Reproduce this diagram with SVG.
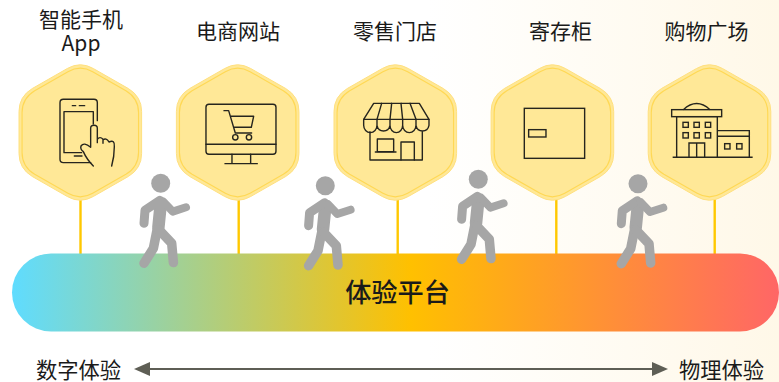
<svg xmlns="http://www.w3.org/2000/svg" xmlns:xlink="http://www.w3.org/1999/xlink" width="779" height="382" viewBox="0 0 779 382">
<style>
text{font-family:"Noto Sans CJK SC","Noto Sans",sans-serif;fill:#1a1a1a;text-anchor:middle}
.lb{font-size:21px}
.ax{font-size:21.3px}
.hx{fill:#FFE897;stroke:#FFE07F;stroke-width:1}
.hi{fill:none;stroke:#FFD855;stroke-width:1.2}
.ic{fill:none;stroke:#26251e;stroke-width:4.2;stroke-linejoin:round;stroke-linecap:round}
.ic2{stroke-linecap:butt;stroke-linejoin:miter}
.cn{stroke:#FFC800;stroke-width:2.4;fill:none}
.pa{fill:none;stroke:#A6A6A6;stroke-linecap:round;stroke-linejoin:round}
</style>
<defs>
<linearGradient id="bg" x1="0" x2="1" y1="0" y2="0"><stop offset="0.55" stop-color="#fff"/><stop offset="1" stop-color="#FFF8E8"/></linearGradient>
<linearGradient id="bar" x1="0" x2="1" y1="0" y2="0"><stop offset="0" stop-color="#5FDCFF"/><stop offset="0.52" stop-color="#FFC000"/><stop offset="1" stop-color="#FF6666"/></linearGradient>
<path id="hp" d="M-13,-64 Q0,-71.5 13,-64 L48,-44 Q61.3,-36 61.3,-21 V21 Q61.3,36 48,44 L13,64 Q0,71.5 -13,64 L-48,44 Q-61.3,36 -61.3,21 V-21 Q-61.3,-36 -48,-44 Z"/>
<g id="hex"><use xlink:href="#hp" class="hx"/><use xlink:href="#hp" class="hi" transform="scale(.95)"/></g>
<g id="walker">
<circle cx="0" cy="0" r="9.5" fill="#A6A6A6"/>
<path class="pa" stroke-width="12.5" d="M0,21 L-2.3,44"/>
<path class="pa" stroke-width="9" d="M-.7,17 L-15.7,27 L-16.7,40"/>
<path class="pa" stroke-width="8" d="M2.7,18.5 L12,28.3 L25.3,24"/>
<path class="pa" stroke-width="9.5" d="M-3.5,46 L-7.3,65 L-16.7,80"/>
<path class="pa" stroke-width="9.5" d="M-1.5,46.7 L11,60 L12.7,79.3"/>
</g>
<marker id="ah" markerUnits="userSpaceOnUse" markerWidth="16" markerHeight="16" refX="0" refY="8" orient="auto-start-reverse"><path d="M0,1 L16,8 L0,15 Z" fill="#5E5E55"/></marker>
</defs>
<rect id="background" width="779" height="382" fill="url(#bg)"/>
<g id="connectors">
<path class="cn" d="M80.5,199 V255"/>
<path class="cn" d="M238.7,199 V255"/>
<path class="cn" d="M397.7,199 V255"/>
<path class="cn" d="M556.3,199 V255"/>
<path class="cn" d="M714.7,199 V255"/>
<path d="M150,369 H652" stroke="#5E5E55" stroke-width="2" fill="none" marker-start="url(#ah)" marker-end="url(#ah)"/>
</g>
<g id="platform">
<rect x="12" y="253.5" width="767" height="78" rx="39" fill="url(#bar)"/>
<text x="397.5" y="302" style="font-size:26.2px;font-weight:500">体验平台</text>
</g>
<g id="node-app">
<use xlink:href="#hex" x="80.3" y="132.5"/>
<g class="ic" transform="scale(.3333)">
<path d="M272,488 H190 Q180,488 180,478 V308 Q180,298 190,298 H282 Q292,298 292,308 V362"/>
<path d="M245,458 H192 V335 H280 V372"/>
<path d="M217,317 H227 M238,317 H254 M223,468 H246"/>
<path d="M272,440 V385 Q272,376 282,376 Q292,376 292,385 V428 M292,428 V418 Q300,408 309,418 V430 M309,420 Q318,412 327,426 M327,426 Q345,418 343,440 Q343,470 335,498 M272,442 Q252,425 243,438 Q240,448 250,455 Q260,478 280,498"/>
</g>
</g>
<g id="node-web">
<use xlink:href="#hex" x="237.7" y="132.5"/>
<g class="ic" transform="scale(.3333)">
<rect x="618" y="313" width="210" height="150" rx="9"/>
<path d="M618,433 H828 M696,463 V491 M752,463 V491 M675,491 H772"/>
<path d="M672,332 H686 L706,399 H755 M691,349 H761 L754,382 H701"/>
<circle cx="706" cy="412" r="8"/><circle cx="747" cy="412" r="8"/>
</g>
</g>
<g id="node-store">
<use xlink:href="#hex" x="395.3" y="132.5"/>
<g class="ic" transform="translate(320,50) scale(.3333)">
<path d="M161,160 H298 L327,208 H131 Z"/>
<path d="M185,160 L171,208 M215,160 L210,208 M243,160 L248,208 M270,160 L288,208"/>
<path d="M131,208 V226 A20,22 0 0 0 171,226 A20,22 0 0 0 210,226 A19,22 0 0 0 248,226 A20,22 0 0 0 288,226 A20,22 0 0 0 327,226 V208 M171,208 V226 M210,208 V226 M248,208 V226 M288,208 V226"/>
<path d="M150,245 V330 H307 V245"/>
<rect x="172" y="267" width="49" height="38"/>
<path d="M166,306 H228"/>
<path d="M243,330 V276 H283 V330"/>
</g>
</g>
<g id="node-locker">
<use xlink:href="#hex" x="552.4" y="132.5"/>
<g class="ic ic2" transform="translate(320,50) scale(.3333)">
<rect x="613" y="175" width="181" height="150"/>
<rect x="626" y="239" width="52" height="22"/>
</g>
</g>
<g id="node-mall">
<use xlink:href="#hex" x="709.5" y="132.5"/>
<g class="ic ic2" transform="translate(620,50) scale(.3333)">
<path d="M158,322 H398"/>
<path d="M170,322 V200 H292 V322"/>
<rect x="155" y="179" width="150" height="21"/>
<path d="M190,179 Q230,142 270,179"/>
<rect x="189" y="217" width="16" height="15"/><rect x="222" y="217" width="16" height="15"/><rect x="256" y="217" width="16" height="15"/>
<rect x="189" y="248" width="16" height="16"/><rect x="222" y="248" width="16" height="16"/><rect x="256" y="248" width="16" height="16"/>
<path d="M207,322 V279 H254 V322 M230,279 V322"/>
<path d="M292,242 H388 V322 M292,259 H388"/>
<rect x="314" y="281" width="16" height="16"/><rect x="350" y="281" width="16" height="16"/>
</g>
</g>
<g id="people">
<use xlink:href="#walker" x="160.7" y="183.3"/>
<use xlink:href="#walker" x="325.3" y="185.7"/>
<use xlink:href="#walker" x="478.3" y="179.3"/>
<use xlink:href="#walker" x="638" y="183.7"/>
</g>
<g id="labels">
<text class="lb" x="81" y="27">智能手机</text>
<text class="lb" x="81" y="51">App</text>
<text class="lb" x="238" y="39">电商网站</text>
<text class="lb" x="395" y="39">零售门店</text>
<text class="lb" x="560.5" y="39">寄存柜</text>
<text class="lb" x="706.5" y="39">购物广场</text>
<text class="ax" x="78.5" y="377.5">数字体验</text>
<text class="ax" x="721.5" y="377.5">物理体验</text>
</g>
</svg>
